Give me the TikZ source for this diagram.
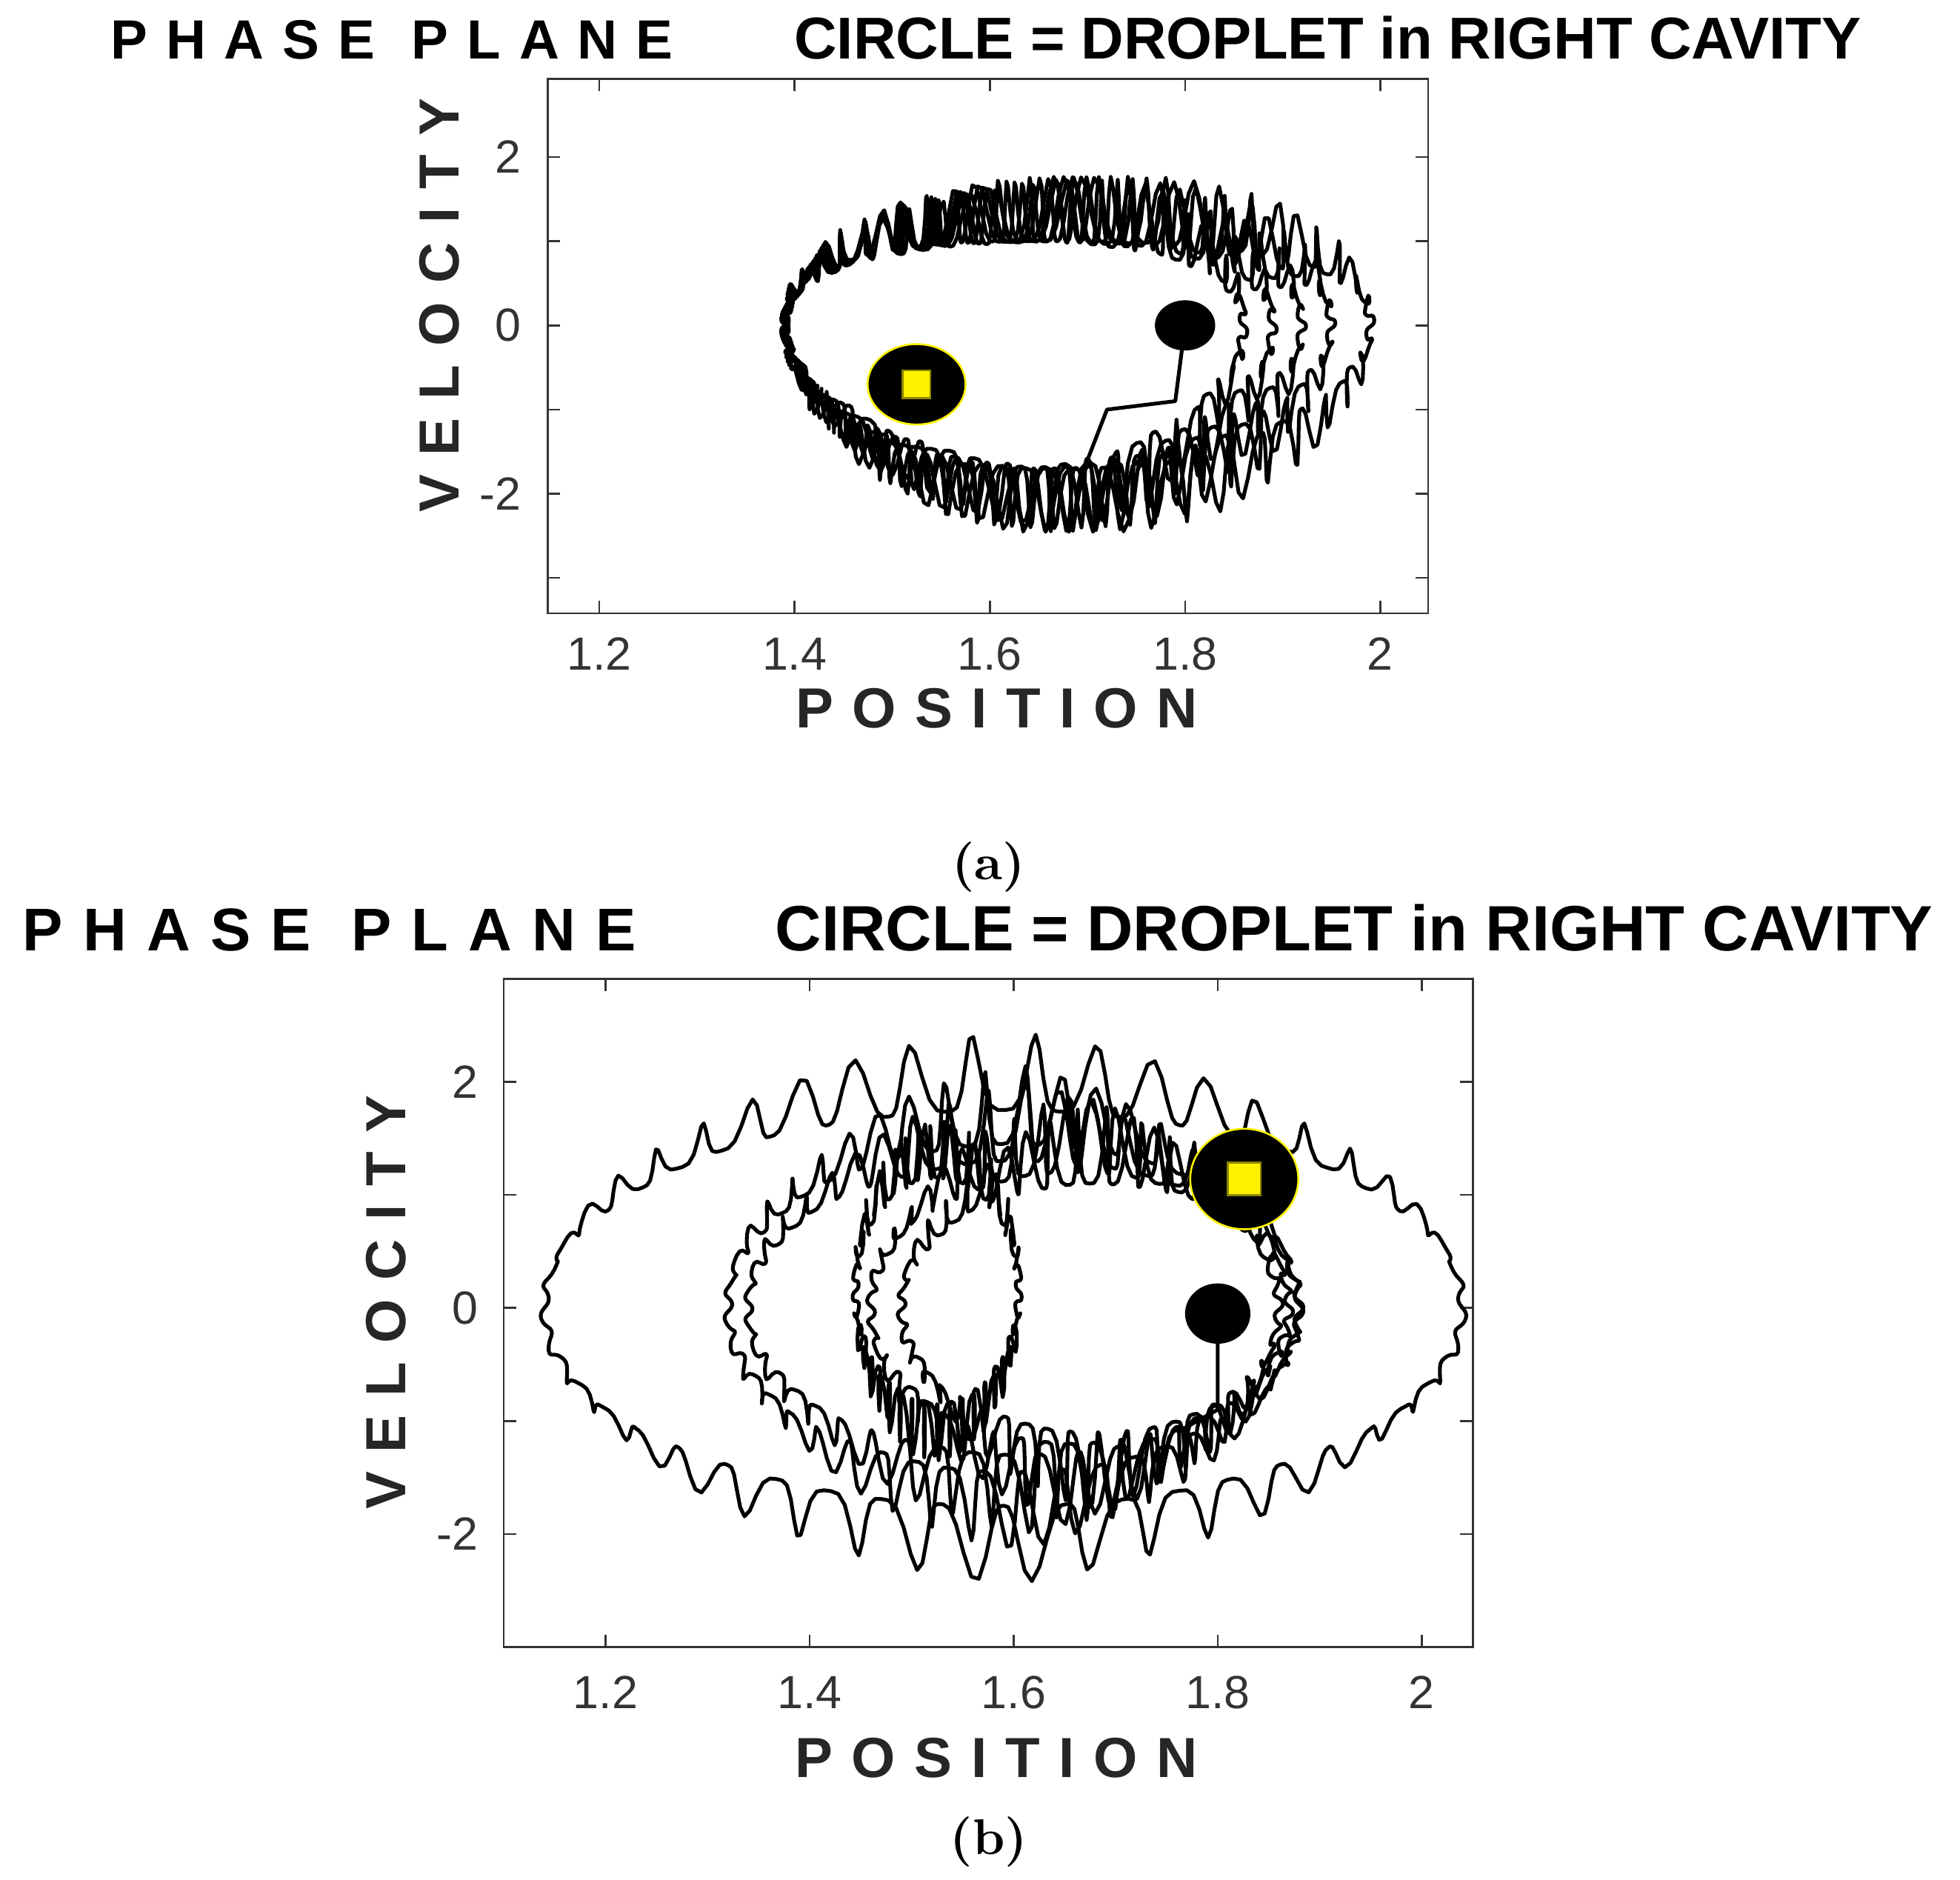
\documentclass[tikz,border=0pt]{standalone}
\usepackage{fontspec}
\setmainfont{Liberation Sans}
\newfontfamily\lmromanbold{lmroman10-bold.otf}
\usetikzlibrary{shapes.geometric}
\begin{document}
\begin{tikzpicture}[x=1pt,y=1pt,
  ttl/.style={font=\fontsize{47}{47}\selectfont\bfseries,anchor=base west,inner sep=0},
  ttlp/.style={font=\fontsize{44}{44}\selectfont\bfseries,anchor=base west,inner sep=0},
  ttlb/.style={font=\fontsize{51}{51}\selectfont\bfseries,anchor=base west,inner sep=0},
  ttlpb/.style={font=\fontsize{48}{48}\selectfont\bfseries,anchor=base west,inner sep=0},
  tick/.style={font=\fontsize{37}{37}\selectfont,text=black!80,inner sep=0},
  axl/.style={font=\fontsize{45}{45}\selectfont\bfseries,inner sep=0,text=black!85},
  traj/.style={line width=3pt,line join=round},
  subcap/.style={font=\fontsize{40}{40}\selectfont\lmromanbold,inner sep=0},
  dot/.style={fill=black,ellipse},
  frame/.style={line width=1.5pt,black!80}]
\useasboundingbox (0,0) rectangle (1560,1496);
% ================= (a)
\node[ttlp] (ta1) at (88,1449) {P\,\,H\,\,A\,\,S\,\,E\,\,\,\,P\,\,L\,\,A\,\,N\,\,E};
\node[ttl] (ta2) at (632,1449) {CIRCLE = DROPLET in RIGHT CAVITY};
\begin{scope}[shift={(-455.4,1237)},x=777pt,y=67pt]
  \draw[frame] (1.147,-3.42) rectangle (2.049,2.93);
  \foreach \v/\l in {1.2/1.2,1.4/1.4,1.6/1.6,1.8/1.8,2.0/2}{
    \draw[frame] (\v,-3.42) -- ++(0,10pt) (\v,2.93) -- ++(0,-10pt);
    \node[tick] at (\v,-3.9) {\l};}
  \foreach \v in {-3,-2,-1,0,1,2}{
    \draw[frame] (1.147,\v) -- ++(10pt,0) (2.049,\v) -- ++(-10pt,0);}
  \foreach \v/\l in {-2/-2,0/0,2/2}{\node[tick,anchor=east] at (1.12,\v) {\l};}
  \foreach \a/\ph in {0.235/0,0.25/40,0.265/80,0.28/120,0.30/160}{
    \draw[traj] plot[domain=0:360,samples=500,variable=\t]
      ({1.39+\a*(1-cos(\t))+0.004*sin(40*\t+\ph)},
       {sin(\t)*(1.35-0.35*sin(\t))+0.75*sin(\t)*(sin(28*\t+\ph)*sin(28*\t+\ph)*sin(28*\t+\ph)*sin(28*\t+\ph))*(1-0.3*cos(\t))}) -- cycle;}
  \draw[traj] (1.8,0) -- (1.79,-0.9) -- (1.72,-1.0) -- (1.70,-1.6);
  \node[dot,minimum width=48pt,minimum height=40pt] (d1) at (1.8,0) {};
  \node[dot,draw=yellow,line width=1.5pt,minimum width=78pt,minimum height=64pt] (b1) at (1.525,-0.7) {};
  \node[fill=yellow,draw=olive,line width=1.5pt,minimum size=22pt,inner sep=0] (s1) at (b1) {};
  \node[axl] (xa) at (1.607,-4.55) {P\,\,O\,\,S\,\,I\,\,T\,\,I\,\,O\,\,N};
  \node[axl,rotate=90] (ya) at (1.0365,0.24) {V\,\,E\,\,L\,\,O\,\,C\,\,I\,\,T\,\,Y};
\end{scope}
\node[subcap] (ca) at (787,806) {(a)};
% ================= (b)
\node[ttlpb] (tb1) at (18,739) {P\,\,H\,\,A\,\,S\,\,E\,\,\,\,P\,\,L\,\,A\,\,N\,\,E};
\node[ttlb] (tb2) at (617,739) {CIRCLE = DROPLET in RIGHT CAVITY};
\begin{scope}[shift={(-492.4,455)},x=812pt,y=90pt]
  \draw[frame] (1.100,-3.0) rectangle (2.05,2.91);
  \foreach \v/\l in {1.2/1.2,1.4/1.4,1.6/1.6,1.8/1.8,2.0/2}{
    \draw[frame] (\v,-3.0) -- ++(0,10pt) (\v,2.91) -- ++(0,-10pt);
    \node[tick] at (\v,-3.4) {\l};}
  \foreach \v in {-3,-2,-1,0,1,2}{
    \draw[frame] (1.100,\v) -- ++(10pt,0) (2.05,\v) -- ++(-10pt,0);}
  \foreach \v/\l in {-2/-2,0/0,2/2}{\node[tick,anchor=east] at (1.075,\v) {\l};}
  \foreach \cx/\a/\b/\ph in {1.59/0.45/1.75/0,1.6/0.28/1.45/50,1.61/0.27/1.3/100,1.66/0.2/1.2/150,1.68/0.19/1.1/30}{
    \draw[traj] plot[domain=0:360,samples=500,variable=\t]
      ({\cx-\a*cos(\t)+0.004*sin(40*\t+\ph)},
       {\b*sin(\t)+0.7*sin(\t)*(sin(24*\t+\ph)*sin(24*\t+\ph)*sin(24*\t+\ph)*sin(24*\t+\ph))*(1-0.6*abs(cos(\t)))}) -- cycle;}
  \draw[traj] plot[domain=0:360,samples=400,variable=\t]
      ({1.525-0.08*cos(\t)+0.003*sin(40*\t)},{0.15+1.0*sin(\t)+0.5*sin(\t)*(sin(30*\t)*sin(30*\t)*sin(30*\t)*sin(30*\t))}) -- cycle;
  \draw[traj] (1.8,-0.05) -- (1.8,-0.9) -- (1.76,-1.1);
  \node[dot,minimum width=52pt,minimum height=48pt] (d2) at (1.8,-0.05) {};
  \node[dot,draw=yellow,line width=1.5pt,minimum width=86pt,minimum height=80pt] (b2) at (1.826,1.14) {};
  \node[fill=yellow,draw=olive,line width=1.5pt,minimum size=26pt,inner sep=0] (s2) at (b2) {};
  \node[axl] (xb) at (1.583,-3.98) {P\,\,O\,\,S\,\,I\,\,T\,\,I\,\,O\,\,N};
  \node[axl,rotate=90] (yb) at (0.9845,0.05) {V\,\,E\,\,L\,\,O\,\,C\,\,I\,\,T\,\,Y};
\end{scope}
\node[subcap] (cb) at (787,30) {(b)};
\end{tikzpicture}
\end{document}
